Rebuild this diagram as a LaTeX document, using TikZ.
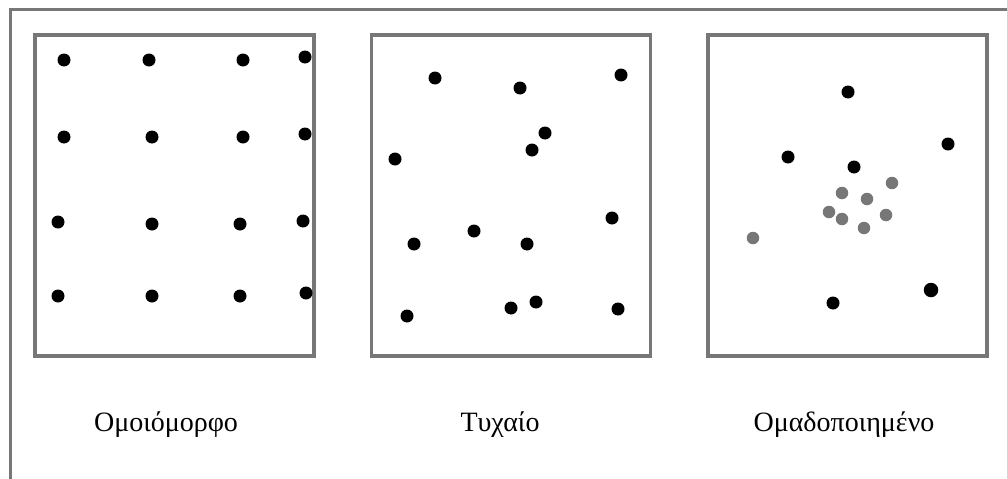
\documentclass[tikz,border=0pt]{standalone}
\usepackage{fontspec}
\setmainfont{Liberation Serif}
\definecolor{framegray}{HTML}{777777}
\definecolor{dotgray}{HTML}{777777}
\begin{document}
\begin{tikzpicture}[x=1pt,y=-1pt,
  panel/.style={draw=framegray,line width=3.4pt,minimum width=279pt,minimum height=321pt,inner sep=0pt},
  bdot/.style={circle,fill=black,minimum size=13pt,inner sep=0pt},
  bdotl/.style={circle,fill=black,minimum size=14.5pt,inner sep=0pt},
  gdot/.style={circle,fill=dotgray,minimum size=12.5pt,inner sep=0pt},
  lbl/.style={anchor=base,font=\fontsize{28}{31}\selectfont,inner sep=0pt}]
\useasboundingbox (0,0) rectangle (1007,479);
\clip (0,0) rectangle (1007,479);
\fill[white] (0,0) rectangle (1007,479);
\draw[framegray,line width=3pt] (10,484) -- (10,9.5) -- (1012,9.5);
% panels
\node[panel] (p1) at (174.5,195.5) {};
\node[panel] (p2) at (511,195.5) {};
\node[panel] (p3) at (847.5,195.5) {};
% uniform
\node[bdot] (u11) at (64,60) {};
\node[bdot] (u12) at (149,60) {};
\node[bdot] (u13) at (243,60) {};
\node[bdot] (u14) at (305,57) {};
\node[bdot] (u21) at (64,137) {};
\node[bdot] (u22) at (152,137) {};
\node[bdot] (u23) at (243,137) {};
\node[bdot] (u24) at (305,134) {};
\node[bdot] (u31) at (58,222) {};
\node[bdot] (u32) at (152,224) {};
\node[bdot] (u33) at (240,224) {};
\node[bdot] (u34) at (303,221) {};
\node[bdot] (u41) at (58,296) {};
\node[bdot] (u42) at (152,296) {};
\node[bdot] (u43) at (240,296) {};
\node[bdot] (u44) at (306,293) {};
% random
\node[bdot] (r1) at (435,78) {};
\node[bdot] (r2) at (520,88) {};
\node[bdot] (r3) at (621,75) {};
\node[bdot] (r4) at (545,133) {};
\node[bdot] (r5) at (532,150) {};
\node[bdot] (r6) at (395,159) {};
\node[bdot] (r7) at (612,218) {};
\node[bdot] (r8) at (474,231) {};
\node[bdot] (r9) at (414,244) {};
\node[bdot] (r10) at (527,244) {};
\node[bdot] (r11) at (407,316) {};
\node[bdot] (r12) at (511,308) {};
\node[bdot] (r13) at (536,302) {};
\node[bdot] (r14) at (618,309) {};
% clustered
\node[bdot] (c1) at (848,92) {};
\node[bdot] (c2) at (788,157) {};
\node[bdot] (c3) at (854,167) {};
\node[bdot] (c4) at (948,144) {};
\node[bdot] (c5) at (833,303) {};
\node[bdotl] (c6) at (931,290) {};
\node[gdot] (g1) at (892,183) {};
\node[gdot] (g2) at (842,193) {};
\node[gdot] (g3) at (867,199) {};
\node[gdot] (g4) at (829,212) {};
\node[gdot] (g5) at (842,219) {};
\node[gdot] (g6) at (886,215) {};
\node[gdot] (g7) at (864,228) {};
\node[gdot] (g8) at (753,238) {};
% labels
\node[lbl] (l1) at (166,431) {Ομοιόμορφο};
\node[lbl] (l2) at (500,431) {Τυχαίο};
\node[lbl] (l3) at (844,431) {Ομαδοποιημένο};
\end{tikzpicture}
\end{document}
